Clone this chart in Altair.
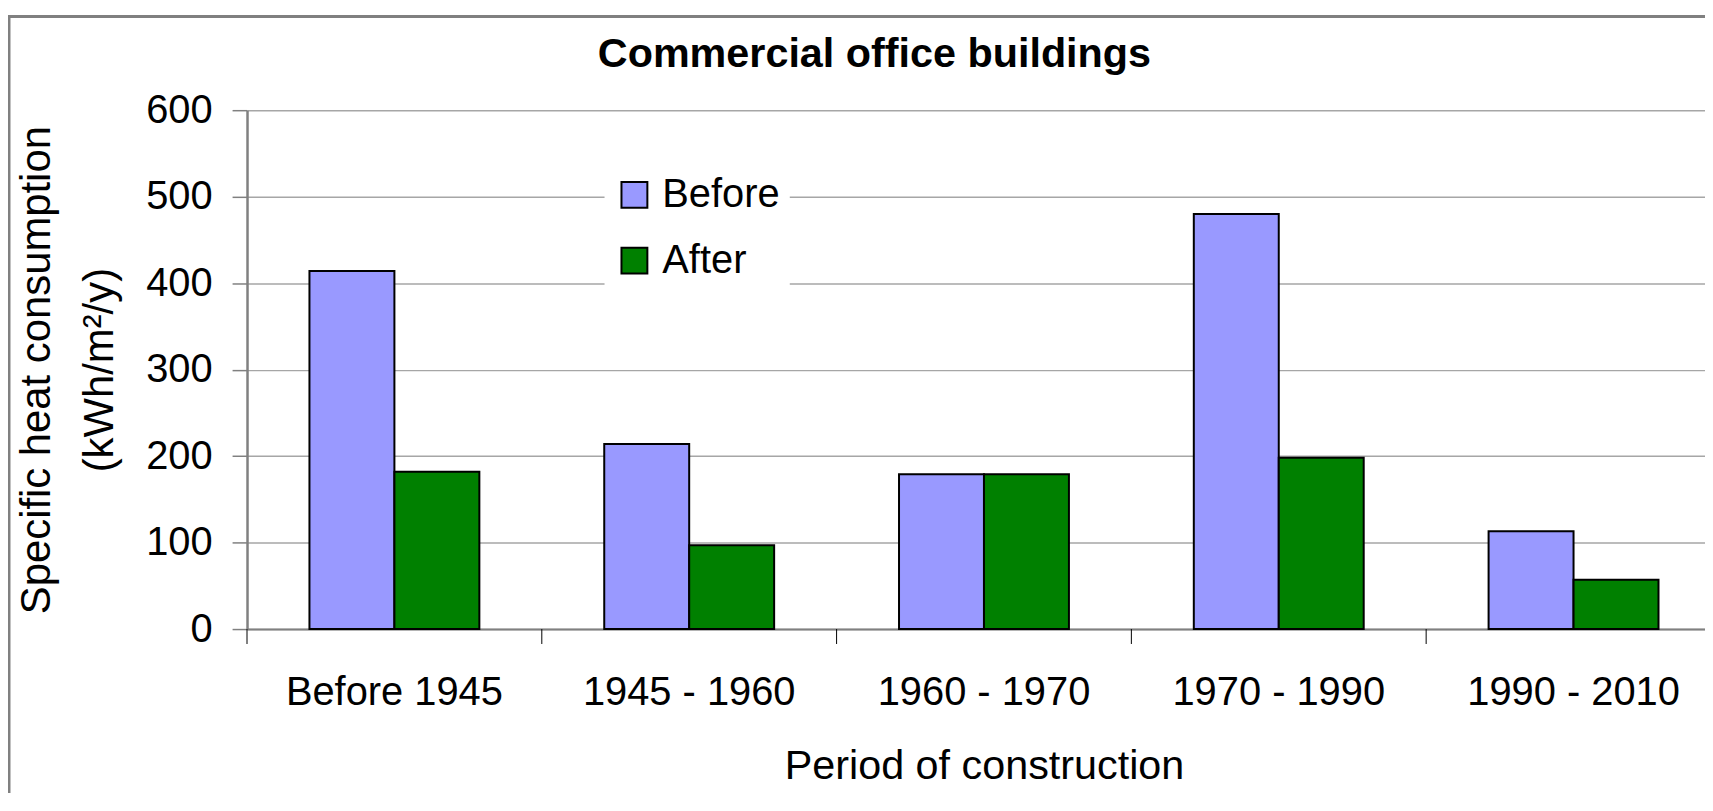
import altair as alt
import pandas as pd

periods = ["Before 1945", "1945 - 1960", "1960 - 1970", "1970 - 1990", "1990 - 2010"]
before_vals = [414, 214, 179, 480, 113]
after_vals = [182, 97, 179, 198, 57]
series = ["Before", "After"]
y_ticks = [0, 100, 200, 300, 400, 500, 600]

rows = []
for p, b, a in zip(periods, before_vals, after_vals):
    rows.append({"period": p, "series": "Before", "value": b})
    rows.append({"period": p, "series": "After", "value": a})
df = pd.DataFrame(rows)
cat_df = pd.DataFrame({"period": periods})
frame_df = pd.DataFrame({"k": [0]})

FONT = "Liberation Sans"
W, H = 1464, 521
STEP_RANGE = 1480

xscale = alt.Scale(domain=periods, range=[0, STEP_RANGE], paddingInner=0, paddingOuter=0)
x_axis = alt.Axis(title="Period of construction", ticks=False, labelAngle=0,
                  labelFontSize=40, labelFont=FONT, labelColor="black", labelLimit=0,
                  labelPadding=44, domainColor="#808080", domainWidth=2,
                  titleFontSize=41.5, titleFont=FONT, titleFontWeight="normal",
                  titleColor="black", titlePadding=33, titleX=740, grid=False)

bars = alt.Chart(df).mark_bar(stroke="black", strokeWidth=2).encode(
    x=alt.X("period:N", sort=periods, scale=xscale, axis=x_axis),
    xOffset=alt.XOffset("series:N", sort=series,
                        scale=alt.Scale(domain=series, paddingInner=0, paddingOuter=0.735)),
    y=alt.Y("value:Q", scale=alt.Scale(domain=[0, 600], nice=False),
            axis=alt.Axis(values=y_ticks, title=["Specific heat consumption", "(kWh/m²/y)"],
                          labelFontSize=40, labelFont=FONT, labelColor="black",
                          labelPadding=20, tickSize=15, tickColor="#808080", tickWidth=1.5,
                          domainColor="#808080", domainWidth=2.5,
                          gridColor="#a6a6a6", gridWidth=1.5,
                          titleFontSize=42, titleFont=FONT, titleFontWeight="normal",
                          titleColor="black", titlePadding=24, titleLineHeight=64)),
    color=alt.Color("series:N", sort=series,
                    scale=alt.Scale(domain=series, range=["#9999FF", "#008000"]),
                    legend=alt.Legend(title=None, orient="none", legendX=359, legendY=55,
                                      fillColor="white", padding=10, symbolOffset=0,
                                      symbolType="square", symbolSize=676,
                                      symbolStrokeColor="black", symbolStrokeWidth=2,
                                      labelFontSize=40, labelFont=FONT, labelColor="black",
                                      labelOffset=8, rowPadding=26)),
)

xticks = alt.Chart(cat_df).mark_rule(color="black", strokeWidth=1).encode(
    x=alt.X("period:N", sort=periods, scale=xscale, bandPosition=0, axis=x_axis),
    y=alt.value(H),
    y2=alt.value(H + 15),
)

frame = alt.Chart(frame_df).mark_rect(fillOpacity=0, stroke="#808080", strokeWidth=3).encode(
    x=alt.value(-239), y=alt.value(-94), x2=alt.value(1700), y2=alt.value(900)
)

chart = alt.layer(frame, bars, xticks).properties(
    width=W, height=H,
    title=alt.TitleParams("Commercial office buildings", font=FONT, fontSize=41.5,
                          fontWeight="bold", color="black", anchor="start",
                          frame="group", align="center", dx=630, dy=65),
    autosize=alt.AutoSizeParams(type="none"),
    padding={"left": 240, "top": 101, "right": 0, "bottom": 163},
).configure_view(stroke=None)

chart.save("out.html", embed_options={"renderer": "svg", "actions": False})
